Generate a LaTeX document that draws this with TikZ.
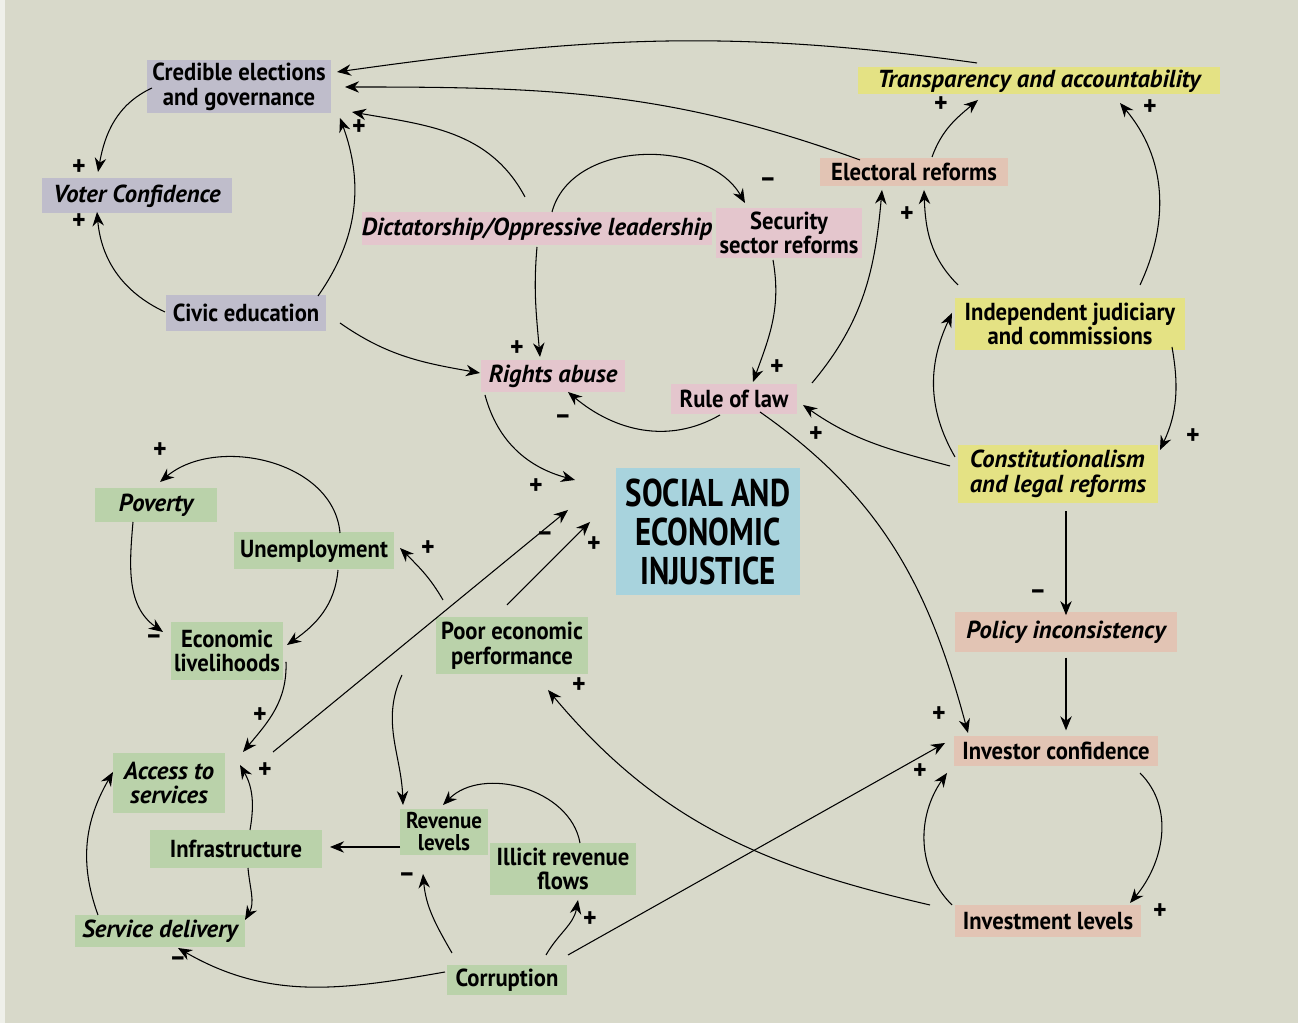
\documentclass[tikz,border=0pt]{standalone}
\usepackage{fontspec}
\setmainfont{PT Sans}[FakeStretch=0.92]
\newfontfamily\slantfont{PT Sans}[FakeStretch=1.0]
\newfontfamily\headfont{PT Sans}[FakeStretch=0.8]
\usetikzlibrary{arrows.meta}

\definecolor{paper}{RGB}{216,217,202}
\definecolor{greybox}{RGB}{191,189,203}
\definecolor{pinkbox}{RGB}{228,198,205}
\definecolor{salmonbox}{RGB}{226,196,180}
\definecolor{yellowbox}{RGB}{228,226,132}
\definecolor{greenbox}{RGB}{186,210,170}
\definecolor{bluebox}{RGB}{168,211,221}

\begin{document}
\begin{tikzpicture}[x=0.02cm, y=0.02cm, >={Stealth[length=8pt,width=6.5pt]},
    every node/.style={font=\fontsize{14}{14}\selectfont\bfseries},
    box/.style={inner sep=0pt, align=center},
    ibox/.style={box, font=\slantfont\fontsize{14}{14}\selectfont\bfseries\itshape},
    link/.style={->, line width=0.6pt},
    sign/.style={inner sep=0pt, font=\fontsize{16}{16}\selectfont\bfseries}]

    % paper
    \fill[paper] (0,0) rectangle (1298,1023);
    \fill[paper!40!white] (0,0) rectangle (5,1023);
    \useasboundingbox (0,0) rectangle (1298,1023);

    % governance
    \node[box, fill=greybox, minimum width=3.68cm, minimum height=1.06cm] (cred) at (239,936) {Credible elections\\and governance};
    \node[ibox, fill=greybox, minimum width=3.8cm, minimum height=0.7cm] (voter) at (137,827) {Voter Confidence};
    \node[box, fill=greybox, minimum width=3.2cm, minimum height=0.72cm] (civic) at (246,710) {Civic education};

    % rights
    \node[ibox, fill=pinkbox, minimum width=7cm, minimum height=0.66cm] (dict) at (537,794) {Dictatorship/Oppressive leadership};
    \node[box, fill=pinkbox, minimum width=2.94cm, minimum height=1cm, font=\fontsize{14}{12.5}\selectfont\bfseries] (secu) at (789,790) {Security\\sector reforms};
    \node[ibox, fill=pinkbox, minimum width=2.9cm, minimum height=0.64cm] (rights) at (553,647) {Rights abuse};
    \node[box, fill=pinkbox, minimum width=2.54cm, minimum height=0.6cm] (rule) at (734,624) {Rule of law};

    % reforms
    \node[ibox, fill=yellowbox, minimum width=7.24cm, minimum height=0.54cm] (transp) at (1039,942) {Transparency and accountability};
    \node[box, fill=salmonbox, minimum width=3.76cm, minimum height=0.56cm] (elect) at (914,851) {Electoral reforms};
    \node[box, fill=yellowbox, minimum width=4.6cm, minimum height=1.04cm] (indep) at (1070,699) {Independent judiciary\\and commissions};
    \node[ibox, fill=yellowbox, minimum width=4cm, minimum height=1.16cm, align=left] (const) at (1058,549) {Constitutionalism\\and legal reforms};

    % centre
    \node[box, fill=bluebox, minimum width=3.68cm, minimum height=2.54cm, font=\headfont\fontsize{22}{22}\selectfont\bfseries] (social) at (708,491) {SOCIAL AND\\ECONOMIC\\INJUSTICE};

    % investment
    \node[ibox, fill=salmonbox, minimum width=4.44cm, minimum height=0.8cm] (policy) at (1066,391) {Policy inconsistency};
    \node[box, fill=salmonbox, minimum width=4.1cm, minimum height=0.6cm] (invconf) at (1056,272) {Investor confidence};
    \node[box, fill=salmonbox, minimum width=3.74cm, minimum height=0.64cm] (invlev) at (1048,102) {Investment levels};

    % economy
    \node[ibox, fill=greenbox, minimum width=2.44cm, minimum height=0.68cm] (poverty) at (156,518) {Poverty};
    \node[box, fill=greenbox, minimum width=3.2cm, minimum height=0.74cm] (unemp) at (314,472) {Unemployment};
    \node[box, fill=greenbox, minimum width=2.26cm, minimum height=1.16cm] (econ) at (227,372) {Economic\\livelihoods};
    \node[box, fill=greenbox, minimum width=3.04cm, minimum height=1.14cm] (poor) at (512,377) {Poor economic\\performance};
    \node[ibox, fill=greenbox, minimum width=2.24cm, minimum height=1.2cm] (access) at (169,240) {Access to\\services};
    \node[box, fill=greenbox, minimum width=3.44cm, minimum height=0.76cm] (infra) at (236,174) {Infrastructure};
    \node[ibox, fill=greenbox, minimum width=3.4cm, minimum height=0.64cm] (service) at (160,92) {Service delivery};
    \node[box, fill=greenbox, minimum width=1.76cm, minimum height=0.92cm, font=\fontsize{13}{12.5}\selectfont\bfseries] (revenue) at (444,191) {Revenue\\levels};
    \node[box, fill=greenbox, minimum width=2.94cm, minimum height=1.04cm] (illicit) at (563,154) {Illicit revenue\\flows};
    \node[box, fill=greenbox, minimum width=2.4cm, minimum height=0.6cm] (corrupt) at (507,43) {Corruption};

    % links, top half
    \draw[link] ([shift={(-62,18)}]transp.center) to[out=172,in=8] ([shift={(98,15)}]cred.center);
    \draw[link] ([shift={(-54,12)}]elect.center) to[out=160,in=0] ([shift={(106,0)}]cred.center);
    \draw[link] ([shift={(-12,32)}]dict.center) to[out=118,in=-10] ([shift={(113,-25)}]cred.center);
    \draw[link] ([shift={(72,17)}]civic.center) to[out=55,in=-70] ([shift={(101,-31)}]cred.center);
    \draw[link] ([shift={(-87,-1)}]cred.center) to[out=205,in=80] ([shift={(-39,24)}]voter.center);
    \draw[link] ([shift={(-81,1)}]civic.center) to[out=155,in=-85] ([shift={(-40,-16)}]voter.center);
    \draw[link] ([shift={(94,-10)}]civic.center) to[out=-35,in=170] ([shift={(-73,3)}]rights.center);
    \draw[link] ([shift={(15,17)}]dict.center) to[out=75,in=120] ([shift={(-44,30)}]secu.center);
    \draw[link] ([shift={(0,-18)}]dict.center) to[out=-95,in=95] ([shift={(-13,19)}]rights.center);
    \draw[link] ([shift={(-16,-27)}]secu.center) to[out=-80,in=70] ([shift={(19,17)}]rule.center);
    \draw[link] ([shift={(-14,-16)}]rule.center) to[out=210,in=-40] ([shift={(15,-16)}]rights.center);
    \draw[link] ([shift={(78,16)}]rule.center) to[out=50,in=-95] ([shift={(-32,-18)}]elect.center);
    \draw[link] ([shift={(-112,39)}]indep.center) to[out=135,in=-88] ([shift={(10,-18)}]elect.center);
    \draw[link] ([shift={(18,15)}]elect.center) to[out=70,in=-140] ([shift={(-61,-19)}]transp.center);
    \draw[link] ([shift={(70,39)}]indep.center) to[out=65,in=-50] ([shift={(81,-22)}]transp.center);
    \draw[link] ([shift={(-103,17)}]const.center) to[out=120,in=-115] ([shift={(-118,11)}]indep.center);
    \draw[link] ([shift={(102,-23)}]indep.center) to[out=-80,in=65] ([shift={(102,24)}]const.center);
    \draw[link] ([shift={(-108,8)}]const.center) to[out=165,in=-35] ([shift={(69,-6)}]rule.center);
    \draw[link] ([shift={(26,-13)}]rule.center) to[out=-35,in=105] ([shift={(-88,18)}]invconf.center);

    % links, investment
    \draw[link] (policy.north |- const.south) ++(0,-8) -- ([yshift=-2pt]policy.north);
    \draw[link] ([yshift=-3pt]policy.south) -- ([yshift=3pt]policy.south |- invconf.north);
    \draw[link] ([shift={(84,-22)}]invconf.center) to[out=-45,in=50] ([shift={(82,18)}]invlev.center);
    \draw[link] ([shift={(-96,16)}]invlev.center) to[out=135,in=-125] ([shift={(-109,-22)}]invconf.center);
    \draw[link] ([shift={(-118,16)}]invlev.center) to[out=167,in=-50] ([shift={(36,-44)}]poor.center);
    \draw[link] ([shift={(61,25)}]corrupt.center) -- ([shift={(-111,8)}]invconf.center);

    % links, economy
    \draw[link] ([shift={(-68,-19)}]rights.center) to[out=-75,in=165] ([shift={(-133,52)}]social.center);
    \draw[link] ([shift={(104,31)}]access.center) -- ([shift={(-140,22)}]social.center);
    \draw[link] ([shift={(-5,41)}]poor.center) -- ([shift={(-118,10)}]social.center);
    \draw[link] ([shift={(-69,46)}]poor.center) to[out=120,in=-45] ([shift={(86,3)}]unemp.center);
    \draw[link] ([shift={(26,18)}]unemp.center) to[out=95,in=40] ([shift={(4,23)}]poverty.center);
    \draw[link] ([shift={(24,-19)}]unemp.center) to[out=-95,in=35] ([shift={(60,6)}]econ.center);
    \draw[link] ([shift={(-23,-17)}]poverty.center) to[out=-95,in=145] ([shift={(-64,19)}]econ.center);
    \draw[link] ([shift={(59,-11)}]econ.center) to[out=-88,in=50] ([shift={(74,31)}]access.center);
    \draw[link] ([shift={(14,19)}]infra.center) to[out=80,in=-60] ([shift={(71,18)}]access.center);
    \draw[link] ([shift={(-62,16)}]service.center) to[out=110,in=-120] ([shift={(-56,11)}]access.center);
    \draw[link] ([shift={(12,-19)}]infra.center) to[out=-85,in=60] ([shift={(85,11)}]service.center);
    \draw[link] ([shift={(-44,-15)}]revenue.center) -- ([shift={(94,2)}]infra.center);
    \draw[link] ([shift={(-110,-29)}]poor.center) to[out=-115,in=92] ([shift={(-41,27)}]revenue.center);
    \draw[link] ([shift={(17,26)}]illicit.center) to[out=100,in=45] ([shift={(-1,27)}]revenue.center);
    \draw[link] ([shift={(-55,27)}]corrupt.center) to[out=120,in=-85] ([shift={(-21,-42)}]revenue.center);
    \draw[link] ([shift={(39,25)}]corrupt.center) to[out=60,in=-100] ([shift={(15,-31)}]illicit.center);
    \draw[link] ([shift={(-62,8)}]corrupt.center) to[out=190,in=-30] ([shift={(18,-17)}]service.center);

    % polarity signs
    \node[sign] (s1) at (79,855) {+};
    \node[sign] (s2) at (79,801) {+};
    \node[sign] (s3) at (359,895) {+};
    \node[sign] (s4) at (768,840) {--};
    \node[sign] (s5) at (517,674) {+};
    \node[sign] (s6) at (777,655) {+};
    \node[sign] (s7) at (563,603) {--};
    \node[sign] (s8) at (907,808) {+};
    \node[sign] (s9) at (941,918) {+};
    \node[sign] (s10) at (1150,915) {+};
    \node[sign] (s11) at (1193,586) {+};
    \node[sign] (s12) at (816,588) {+};
    \node[sign] (s13) at (939,308) {+};
    \node[sign] (s14) at (1038,428) {--};
    \node[sign] (s15) at (1160,111) {+};
    \node[sign] (s16) at (920,251) {+};
    \node[sign] (s17) at (579,337) {+};
    \node[sign] (s18) at (536,536) {+};
    \node[sign] (s19) at (545,486) {--};
    \node[sign] (s20) at (594,478) {+};
    \node[sign] (s21) at (428,474) {+};
    \node[sign] (s22) at (160,572) {+};
    \node[sign] (s23) at (154,383) {--};
    \node[sign] (s24) at (260,307) {+};
    \node[sign] (s25) at (265,252) {+};
    \node[sign] (s26) at (407,145) {--};
    \node[sign] (s27) at (590,103) {+};
    \node[sign] (s28) at (178,61) {--};
\end{tikzpicture}
\end{document}
